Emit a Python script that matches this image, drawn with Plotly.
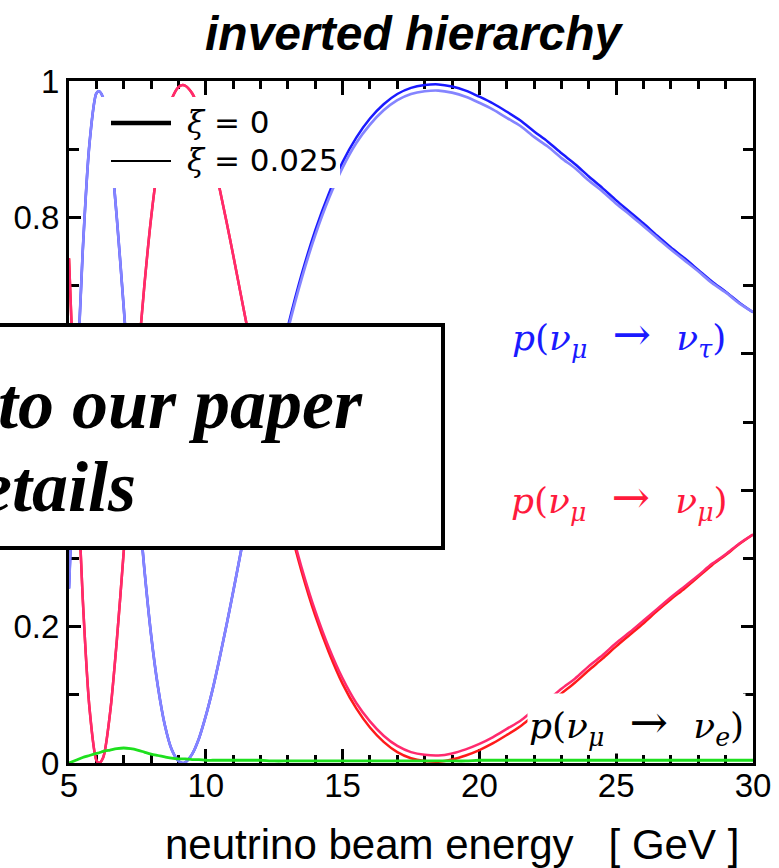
import plotly.graph_objects as go

# Beam energy samples [GeV]
energy = [5.0, 5.25, 5.5, 5.75, 6.0, 6.1, 6.25, 6.5, 6.75, 7.0, 7.25, 7.5, 7.75, 8.0,
          8.25, 8.5, 8.75, 9.0, 9.15, 9.25, 9.5, 9.75, 10.0, 10.25, 10.5, 10.75, 11.0,
          11.25, 11.5, 11.75, 12.0,
          12.5, 13.0, 13.5, 14.0, 14.5, 15.0, 15.5, 16.0, 16.5, 17.0, 17.5, 18.0, 18.5,
          19.0, 19.5, 20.0, 20.5, 21.0, 21.5, 22.0, 22.5, 23.0, 23.5, 24.0, 24.5, 25.0,
          25.5, 26.0, 26.5, 27.0, 27.5, 28.0, 28.5, 29.0, 29.5, 30.0]

# p(nu_mu -> nu_tau)
p_mutau_xi0 = [0.256, 0.516, 0.749, 0.909, 0.982, 0.985, 0.975, 0.908, 0.798, 0.668, 0.532,
               0.401, 0.286, 0.188, 0.112, 0.056, 0.020, 0.003, 0.000, 0.001, 0.013, 0.036,
               0.069, 0.108, 0.153, 0.201, 0.251, 0.303, 0.355, 0.406, 0.458,
               0.554, 0.640, 0.716, 0.781, 0.835, 0.881, 0.917, 0.945, 0.966, 0.981, 0.990,
               0.994, 0.995, 0.992, 0.986, 0.977, 0.967, 0.955, 0.942, 0.926, 0.911, 0.894,
               0.878, 0.860, 0.843, 0.825, 0.808, 0.791, 0.773, 0.756, 0.740, 0.723, 0.706,
               0.691, 0.675, 0.661]
p_mutau_xi025 = [0.256, 0.516, 0.749, 0.909, 0.982, 0.985, 0.975, 0.908, 0.798, 0.668, 0.532,
                 0.401, 0.286, 0.188, 0.112, 0.056, 0.020, 0.003, 0.000, 0.001, 0.013, 0.036,
                 0.069, 0.108, 0.153, 0.201, 0.251, 0.303, 0.354, 0.404, 0.455,
                 0.550, 0.635, 0.710, 0.774, 0.828, 0.873, 0.909, 0.936, 0.957, 0.972, 0.981,
                 0.985, 0.986, 0.983, 0.977, 0.968, 0.958, 0.946, 0.934, 0.918, 0.904, 0.887,
                 0.872, 0.854, 0.838, 0.820, 0.804, 0.787, 0.770, 0.753, 0.737, 0.721, 0.704,
                 0.690, 0.674, 0.661]

# p(nu_mu -> nu_mu)
p_mumu_xi0 = [0.740, 0.480, 0.243, 0.080, 0.004, 0.000, 0.008, 0.073, 0.181, 0.310, 0.447,
              0.580, 0.698, 0.799, 0.877, 0.935, 0.973, 0.991, 0.994, 0.993, 0.982, 0.959,
              0.927, 0.888, 0.843, 0.795, 0.745, 0.693, 0.641, 0.590, 0.538,
              0.443, 0.357, 0.281, 0.216, 0.162, 0.116, 0.080, 0.052, 0.031, 0.016, 0.007,
              0.003, 0.002, 0.005, 0.011, 0.019, 0.029, 0.041, 0.054, 0.070, 0.085, 0.102,
              0.118, 0.136, 0.153, 0.171, 0.188, 0.205, 0.223, 0.240, 0.256, 0.273, 0.290,
              0.305, 0.321, 0.335]
p_mumu_xi025 = [0.740, 0.480, 0.243, 0.080, 0.004, 0.000, 0.008, 0.073, 0.181, 0.310, 0.447,
                0.580, 0.698, 0.799, 0.877, 0.935, 0.973, 0.991, 0.994, 0.993, 0.982, 0.959,
                0.927, 0.888, 0.843, 0.795, 0.745, 0.693, 0.642, 0.592, 0.541,
                0.447, 0.362, 0.287, 0.223, 0.169, 0.124, 0.088, 0.061, 0.040, 0.025, 0.016,
                0.012, 0.011, 0.014, 0.020, 0.028, 0.038, 0.050, 0.062, 0.078, 0.092, 0.109,
                0.124, 0.142, 0.158, 0.176, 0.192, 0.209, 0.226, 0.243, 0.259, 0.275, 0.292,
                0.306, 0.322, 0.335]

# p(nu_mu -> nu_e)
p_mue = [0.000, 0.004, 0.008, 0.011, 0.014, 0.015, 0.017, 0.019, 0.021, 0.022, 0.021,
         0.019, 0.016, 0.013, 0.011, 0.009, 0.007, 0.006, 0.006, 0.006, 0.005, 0.005,
         0.004, 0.004, 0.004, 0.004, 0.004, 0.004, 0.004, 0.004, 0.004,
         0.003, 0.003, 0.003, 0.003, 0.003, 0.003, 0.003, 0.003, 0.003, 0.003, 0.003,
         0.003, 0.003, 0.003, 0.003, 0.004, 0.004, 0.004, 0.004, 0.004, 0.004, 0.004,
         0.004, 0.004, 0.004, 0.004, 0.004, 0.004, 0.004, 0.004, 0.004, 0.004, 0.004,
         0.004, 0.004, 0.004]

x_ticks = [5, 10, 15, 20, 25, 30]
y_ticks = [0, 0.2, 0.4, 0.6, 0.8, 1]
# 0.4 and 0.6 sit under the note box
y_tick_text = ["0", "0.2", "", "", "0.8", "1"]

W, H = 779, 868
ML, MR, MT, MB = 69, 26, 81, 105
PW, PH = W - ML - MR, H - MT - MB


def px(x):
    return (x - ML) / PW


def py(y):
    return (H - MB - y) / PH


fig = go.Figure()

curves = [
    (p_mumu_xi0, "#ff1a1a", 2.5),
    (p_mutau_xi0, "#1a1aff", 2.5),
    (p_mumu_xi025, "#ff2a6e", 2.5),
    (p_mutau_xi025, "#8484ff", 2.7),
    (p_mue, "#1ee01e", 2.8),
]
for ys, col, w in curves:
    fig.add_trace(go.Scatter(x=energy, y=ys, mode="lines",
                             line=dict(color=col, width=w, shape="spline", smoothing=0.8),
                             hoverinfo="skip", showlegend=False))

tick_font = dict(family="Liberation Sans, Arial, sans-serif", size=33, color="black")
fig.update_xaxes(range=[5, 30], tickvals=x_ticks, ticks="inside", ticklen=14, tickwidth=2.5,
                 tickcolor="black", showline=True, linecolor="black", linewidth=3,
                 mirror="ticks", showgrid=False, zeroline=False, tickfont=tick_font,
                 layer="below traces", ticklabelstandoff=-9,
                 minor=dict(dtick=1, ticks="inside", ticklen=8, tickwidth=2.5,
                            tickcolor="black", showgrid=False))
fig.update_yaxes(range=[0, 1], tickvals=y_ticks, ticktext=y_tick_text, ticks="inside",
                 ticklen=12, tickwidth=2.5, tickcolor="black", showline=True,
                 linecolor="black", linewidth=3, mirror="ticks", showgrid=False,
                 zeroline=False, tickfont=tick_font, layer="below traces",
                 minor=dict(dtick=0.1, ticks="inside", ticklen=10, tickwidth=2.5,
                            tickcolor="black", showgrid=False))

shapes = [
    # legend panel
    dict(type="rect", xref="paper", yref="paper", x0=px(97), x1=px(340), y0=py(188), y1=py(97),
         fillcolor="white", line=dict(width=0), layer="above"),
    dict(type="line", xref="paper", yref="paper", x0=px(111), x1=px(171), y0=py(123), y1=py(123),
         line=dict(color="black", width=4.5), layer="above"),
    dict(type="line", xref="paper", yref="paper", x0=px(111), x1=px(171), y0=py(161), y1=py(161),
         line=dict(color="black", width=2.2), layer="above"),
    # note box
    dict(type="rect", xref="paper", yref="paper", x0=px(-20), x1=px(443), y0=py(548), y1=py(325),
         fillcolor="white", line=dict(color="black", width=4), layer="above"),
]

serif = "DejaVu Serif, serif"
sans = "DejaVu Sans, sans-serif"
xi = "<span style=\"font-family:'DejaVu Serif'\"><i>ξ</i></span>"
arrow = "\u2002\u2009<span style=\"font-size:46px\">\u2192</span>\u2002\u2009"

annotations = [
    dict(text=xi + " = 0", x=px(185), y=py(122), xanchor="left", yanchor="middle",
         font=dict(family=sans, size=31, color="black")),
    dict(text=xi + " = 0.025", x=px(185), y=py(160), xanchor="left", yanchor="middle",
         font=dict(family=sans, size=31, color="black")),
    dict(text="<i>p</i>(<i>ν</i><sub><i>μ</i></sub>" + arrow + "<i>ν</i><sub><i>τ</i></sub>)",
         x=px(728), y=py(335), xanchor="right", yanchor="middle",
         font=dict(family=serif, size=36, color="#1a1aff")),
    dict(text="<i>p</i>(<i>ν</i><sub><i>μ</i></sub>" + arrow + "<i>ν</i><sub><i>μ</i></sub>)",
         x=px(730), y=py(498), xanchor="right", yanchor="middle",
         font=dict(family=serif, size=36, color="#ff1a3c")),
    dict(text="<i>p</i>(<i>ν</i><sub><i>μ</i></sub>" + arrow + "<i>ν</i><sub><i>e</i></sub>)",
         x=px(746), y=py(723), xanchor="right", yanchor="middle", bgcolor="white",
         font=dict(family=serif, size=36, color="black")),
    dict(text="<b><i>to our paper</i></b>", x=px(365), y=py(404), xanchor="right",
         yanchor="middle", font=dict(family="Liberation Serif, serif", size=72, color="black")),
    dict(text="<b><i>etails</i></b>", x=px(138), y=py(487), xanchor="right",
         yanchor="middle", font=dict(family="Liberation Serif, serif", size=72, color="black")),
    dict(text="neutrino beam energy\u00a0\u00a0\u00a0[ GeV ]", x=px(452), y=py(845),
         xanchor="center", yanchor="middle",
         font=dict(family="Liberation Sans, Arial, sans-serif", size=42, color="black")),
    dict(text="<b><i>inverted hierarchy</i></b>", x=px(414), y=py(33), xanchor="center",
         yanchor="middle",
         font=dict(family="Liberation Sans, Arial, sans-serif", size=48, color="black")),
]
for a in annotations:
    a.update(xref="paper", yref="paper", showarrow=False)

fig.update_layout(width=W, height=H, margin=dict(l=ML, r=MR, t=MT, b=MB, autoexpand=False),
                  paper_bgcolor="white", plot_bgcolor="white", showlegend=False,
                  shapes=shapes, annotations=annotations)

fig.write_html("out.html")
